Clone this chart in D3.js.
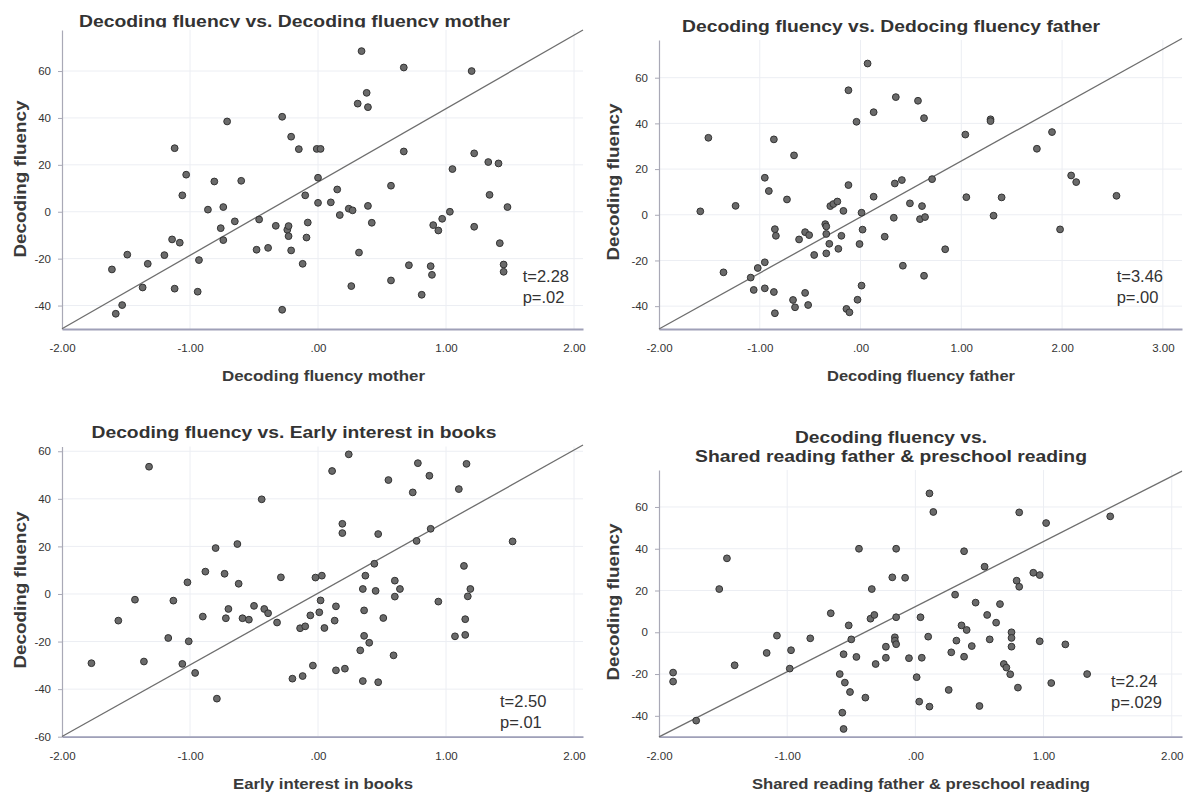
<!DOCTYPE html>
<html><head><meta charset="utf-8">
<script src="https://cdn.jsdelivr.net/npm/d3@7"></script>
<style>body{margin:0;background:#fff}svg{display:block}</style>
</head><body>
<svg id="c" width="1184" height="796"></svg>
<script>
// ---------- data ----------
const motherPts = [[-1.61,-24.6],[-1.58,-43.5],[-1.53,-39.8],[-1.49,-18.3],[-1.33,-22.2],[-1.37,-32.3],[-1.20,-18.5],[-1.12,27.1],[-1.14,-11.8],[-1.12,-32.8],[-1.08,-13.2],[-1.06,7.0],[-1.03,15.8],[-0.93,-20.6],[-0.94,-34.1],[-0.86,0.9],[-0.81,12.9],[-0.74,2.0],[-0.76,-7.0],[-0.74,-12.1],[-0.71,38.5],[-0.65,-4.1],[-0.60,13.2],[-0.48,-16.2],[-0.46,-3.3],[-0.39,-15.4],[-0.33,-6.0],[-0.28,40.5],[-0.28,-41.8],[-0.21,32.0],[-0.24,-7.7],[-0.23,-6.1],[-0.23,-10.4],[-0.21,-16.5],[-0.15,26.7],[-0.12,-22.2],[-0.10,7.0],[-0.08,-4.6],[-0.09,-11.0],[-0.01,26.8],[0.02,26.8],[0.00,14.5],[0.00,3.8],[0.10,4.0],[0.15,9.5],[0.17,-1.4],[0.24,1.3],[0.27,0.6],[0.34,68.5],[0.31,46.1],[0.38,50.7],[0.39,44.6],[0.39,2.5],[0.42,-4.7],[0.32,-17.4],[0.26,-31.7],[0.57,11.1],[0.57,-29.3],[0.67,61.5],[0.67,25.7],[0.71,-22.8],[0.81,-35.4],[0.88,-23.2],[0.89,-26.9],[0.90,-5.7],[0.94,-8.0],[0.97,-3.0],[1.03,0.0],[1.05,18.2],[1.20,60.0],[1.22,24.9],[1.22,-6.4],[1.33,21.2],[1.34,7.2],[1.41,20.6],[1.42,-13.4],[1.45,-22.5],[1.45,-25.6],[1.48,2.0]];
const fatherPts = [[-1.59,1.5],[-1.51,33.7],[-1.36,-25.2],[-1.24,3.9],[-1.09,-27.5],[-1.06,-32.9],[-1.02,-23.3],[-0.95,16.2],[-0.95,-20.8],[-0.95,-32.2],[-0.91,10.4],[-0.86,33.0],[-0.86,-33.8],[-0.85,-6.3],[-0.84,-9.2],[-0.85,-43.1],[-0.73,6.7],[-0.66,26.0],[-0.67,-37.3],[-0.65,-40.5],[-0.61,-10.8],[-0.55,-7.6],[-0.55,-34.2],[-0.51,-8.9],[-0.52,-39.5],[-0.46,-17.6],[-0.35,-4.1],[-0.34,-5.1],[-0.34,-8.4],[-0.34,-16.9],[-0.31,-12.7],[-0.30,3.8],[-0.27,4.7],[-0.23,5.8],[-0.22,-14.9],[-0.19,-9.2],[-0.17,1.7],[-0.14,-41.2],[-0.11,-42.7],[-0.12,54.5],[-0.12,13.0],[-0.04,40.7],[-0.03,-37.2],[-0.01,-12.8],[0.01,0.9],[0.02,-6.5],[0.01,-31.0],[0.07,66.2],[0.13,44.9],[0.13,7.9],[0.24,-9.6],[0.35,51.5],[0.34,13.7],[0.33,-1.3],[0.57,49.9],[0.63,42.3],[0.41,15.2],[0.49,5.0],[0.61,3.8],[0.59,-1.9],[0.64,-1.0],[0.71,15.6],[0.42,-22.3],[0.63,-26.7],[0.84,-15.1],[1.04,35.1],[1.05,7.7],[1.29,41.8],[1.29,41.0],[1.32,-0.4],[1.40,7.6],[1.75,28.9],[1.90,36.2],[1.98,-6.4],[2.09,17.2],[2.14,14.3],[2.54,8.3]];
const booksPts = [[-1.77,-29.1],[-1.56,-11.2],[-1.43,-2.4],[-1.32,53.5],[-1.36,-28.4],[-1.17,-18.5],[-1.13,-2.8],[-1.06,-29.4],[-1.02,4.9],[-1.01,-19.9],[-0.96,-33.2],[-0.90,-9.5],[-0.88,9.4],[-0.80,19.3],[-0.79,-44.0],[-0.73,8.5],[-0.72,-10.2],[-0.70,-6.3],[-0.63,21.0],[-0.62,4.3],[-0.59,-10.2],[-0.54,-10.8],[-0.50,-5.0],[-0.44,39.8],[-0.42,-6.3],[-0.39,-8.1],[-0.32,-12.0],[-0.29,7.0],[-0.20,-35.6],[-0.14,-14.4],[-0.10,-13.6],[-0.12,-34.5],[-0.06,-9.0],[-0.04,-30.1],[-0.02,6.9],[0.03,7.7],[0.02,-2.7],[0.01,-7.7],[0.05,-14.3],[0.13,-11.2],[0.14,-5.2],[0.14,-32.1],[0.21,-31.4],[0.11,51.7],[0.24,58.7],[0.19,29.5],[0.19,25.6],[0.33,-23.7],[0.35,-36.6],[0.36,-6.9],[0.35,2.1],[0.37,7.7],[0.36,-17.6],[0.40,-20.5],[0.44,12.7],[0.45,1.3],[0.47,25.2],[0.47,-37.1],[0.51,-10.1],[0.55,47.9],[0.59,-25.8],[0.60,5.6],[0.60,-1.1],[0.64,2.1],[0.74,42.7],[0.78,55.0],[0.77,22.3],[0.87,49.7],[0.88,27.4],[0.94,-3.2],[1.07,-17.8],[1.10,44.1],[1.14,11.8],[1.16,54.7],[1.15,-10.6],[1.15,-17.2],[1.17,-1.0],[1.19,2.1],[1.52,22.1]];
const sharedPts = [[-1.89,-19.3],[-1.89,-23.6],[-1.71,-42.3],[-1.53,20.7],[-1.47,35.4],[-1.41,-15.8],[-1.16,-9.9],[-1.08,-1.6],[-0.98,-17.4],[-0.97,-8.6],[-0.82,-2.9],[-0.66,9.1],[-0.59,-20.0],[-0.57,-38.5],[-0.56,-46.3],[-0.56,-10.5],[-0.55,-24.1],[-0.52,3.3],[-0.51,-28.6],[-0.50,-3.4],[-0.46,-11.8],[-0.44,40.0],[-0.39,-31.3],[-0.35,6.5],[-0.34,20.7],[-0.32,8.3],[-0.31,-15.2],[-0.23,-6.9],[-0.23,-12.2],[-0.18,26.3],[-0.15,40.0],[-0.15,7.2],[-0.16,-2.4],[-0.16,-4.0],[-0.15,-5.7],[-0.08,26.1],[-0.05,-12.4],[0.01,-21.5],[0.03,-33.2],[0.04,7.2],[0.05,-12.2],[0.10,-2.1],[0.11,66.5],[0.14,57.6],[0.11,-35.6],[0.26,-27.6],[0.28,-9.6],[0.31,18.0],[0.32,-4.0],[0.36,3.3],[0.40,1.1],[0.38,38.8],[0.38,-11.7],[0.44,-6.6],[0.47,14.2],[0.50,-35.3],[0.54,31.4],[0.56,8.3],[0.58,-3.4],[0.63,4.6],[0.66,13.5],[0.69,-15.2],[0.71,-16.9],[0.74,-20.1],[0.75,0.0],[0.75,-2.7],[0.75,-6.9],[0.79,24.7],[0.81,21.8],[0.80,-26.5],[0.81,57.4],[0.92,28.5],[0.97,27.4],[0.97,-4.3],[1.02,52.3],[1.06,-24.3],[1.17,-5.8],[1.34,-20.0],[1.52,55.5]];

// regression lines: [intercept, slope]
const fitMother = [12.7, 31.3];
const fitFather = [-1.0, 24.5];
const fitBooks  = [0.3, 30.1];
const fitShared = [12.3, 31.2];

const statMother = ["t=2.28", "p=.02"];
const statFather = ["t=3.46", "p=.00"];
const statBooks  = ["t=2.50", "p=.01"];
const statShared = ["t=2.24", "p=.029"];

const titleMother = ["Decoding fluency vs. Decoding fluency mother"];
const titleFather = ["Decoding fluency vs. Dedocing fluency father"];
const titleBooks  = ["Decoding fluency vs. Early interest in books"];
const titleShared = ["Decoding fluency vs.", "Shared reading father & preschool reading"];

const xLabels = ["Decoding fluency mother", "Decoding fluency father", "Early interest in books", "Shared reading father & preschool reading"];
const yLabel = "Decoding fluency";

const xTicks4 = [-2, -1, 0, 1, 2];
const xTicks5 = [-2, -1, 0, 1, 2, 3];
const yTicks6 = [-40, -20, 0, 20, 40, 60];
const yTicks7 = [-60, -40, -20, 0, 20, 40, 60];

// ---------- layout ----------
const panels = [
  {pts: motherPts, fit: fitMother, stat: statMother, title: titleMother, xlab: xLabels[0],
   xDom: [-2, 2.07], yDom: [-50, 77.5], L: 62, R: 583, T: 30, B: 329, xt: xTicks4, yt: yTicks6,
   titleX: 294.5, titleY: [27], titleW: [431], clip: true, xlabX: 323.5, xlabY: 381, xlabW: 203,
   ylabX: 26, ylabY: 179, statX: 522.7, statY: [281.7, 303]},
  {pts: fatherPts, fit: fitFather, stat: statFather, title: titleFather, xlab: xLabels[1],
   xDom: [-2, 3.19], yDom: [-50, 76.5], L: 659, R: 1182, T: 40, B: 329, xt: xTicks5, yt: yTicks6,
   titleX: 891, titleY: [31.5], titleW: [418], clip: false, xlabX: 921, xlabY: 381, xlabW: 188,
   ylabX: 619, ylabY: 182, statX: 1116.7, statY: [281.7, 303]},
  {pts: booksPts, fit: fitBooks, stat: statBooks, title: titleBooks, xlab: xLabels[2],
   xDom: [-2, 2.07], yDom: [-60, 62], L: 62, R: 583, T: 446.5, B: 736.7, xt: xTicks4, yt: yTicks7,
   titleX: 294, titleY: [438], titleW: [405], clip: false, xlabX: 323, xlabY: 789, xlabW: 180,
   ylabX: 26, ylabY: 590, statX: 500, statY: [706.7, 728.3]},
  {pts: sharedPts, fit: fitShared, stat: statShared, title: titleShared, xlab: xLabels[3],
   xDom: [-2, 2.08], yDom: [-50, 77.7], L: 659, R: 1182, T: 470, B: 736.7, xt: xTicks4, yt: yTicks6,
   titleX: 891, titleY: [443, 461.7], titleW: [192, 392], clip: false, xlabX: 921, xlabY: 789, xlabW: 338,
   ylabX: 619, ylabY: 602, statX: 1111, statY: [686.7, 708.3]}
];

const svg = d3.select("#c");
const FONT = "'Liberation Sans', Arial, Helvetica, sans-serif";
const fmtX = d => d === 0 ? ".00" : d.toFixed(2);

svg.append("defs").append("clipPath").attr("id", "titleClip")
  .append("rect").attr("x", 0).attr("y", 0).attr("width", 600).attr("height", 27.6);

panels.forEach((p, i) => {
  const x = d3.scaleLinear().domain(p.xDom).range([p.L, p.R]);
  const y = d3.scaleLinear().domain(p.yDom).range([p.B, p.T]);
  const g = svg.append("g");

  // gridlines
  g.append("g").selectAll("line").data(p.yt).join("line")
    .attr("x1", p.L).attr("x2", p.R).attr("y1", d => y(d)).attr("y2", d => y(d))
    .attr("stroke", "#eceef3").attr("stroke-width", 1);
  g.append("g").selectAll("line").data(p.xt.filter(d => d !== p.xDom[0])).join("line")
    .attr("x1", d => x(d)).attr("x2", d => x(d)).attr("y1", p.T).attr("y2", p.B)
    .attr("stroke", "#eceef3").attr("stroke-width", 1);

  // y axis
  const ya = g.append("g").attr("transform", `translate(${p.L},0)`)
    .call(d3.axisLeft(y).tickValues(p.yt).tickSize(4).tickSizeOuter(0).tickPadding(7).tickFormat(d => String(d)));
  ya.select(".domain").attr("stroke", "#a9a9b6").attr("stroke-width", 1.2);
  ya.selectAll(".tick line").attr("stroke", "#a9a9b6");
  ya.selectAll(".tick text").attr("font-family", FONT).attr("font-size", 11.5).attr("fill", "#333");

  // x axis
  const xa = g.append("g").attr("transform", `translate(0,${p.B})`)
    .call(d3.axisBottom(x).tickValues(p.xt).tickSize(0).tickSizeOuter(0).tickPadding(15).tickFormat(fmtX));
  xa.select(".domain").attr("stroke", "#9fa0b8").attr("stroke-width", 1.8);
  xa.selectAll(".tick text").attr("font-family", FONT).attr("font-size", 11.5).attr("fill", "#333");

  // regression line
  const [b0, b1] = p.fit;
  const lx = [p.xDom[0], p.xDom[1]];
  g.append("line")
    .attr("x1", x(lx[0])).attr("y1", y(b0 + b1 * lx[0]))
    .attr("x2", x(lx[1])).attr("y2", y(b0 + b1 * lx[1]))
    .attr("stroke", "#6e6e6e").attr("stroke-width", 1.3);

  // points
  g.append("g").selectAll("circle").data(p.pts).join("circle")
    .attr("cx", d => x(d[0])).attr("cy", d => y(d[1])).attr("r", 3.4)
    .attr("fill", "#6a6a6a").attr("stroke", "#333").attr("stroke-width", 1);

  // title
  const tg = g.append("g");
  if (p.clip) tg.attr("clip-path", "url(#titleClip)");
  p.title.forEach((t, k) => {
    tg.append("text").attr("x", p.titleX).attr("y", p.titleY[k])
      .attr("text-anchor", "middle").attr("font-family", FONT).attr("font-weight", "bold")
      .attr("font-size", 17).attr("fill", "#333")
      .attr("textLength", p.titleW[k]).attr("lengthAdjust", "spacingAndGlyphs").text(t);
  });

  // x label
  g.append("text").attr("x", p.xlabX).attr("y", p.xlabY).attr("text-anchor", "middle")
    .attr("font-family", FONT).attr("font-weight", "bold").attr("font-size", 15.5).attr("fill", "#3a3a3a")
    .attr("textLength", p.xlabW).attr("lengthAdjust", "spacingAndGlyphs").text(p.xlab);

  // y label
  g.append("text").attr("transform", `translate(${p.ylabX},${p.ylabY}) rotate(-90)`)
    .attr("text-anchor", "middle").attr("font-family", FONT).attr("font-weight", "bold")
    .attr("font-size", 16.5).attr("fill", "#3a3a3a")
    .attr("textLength", 157).attr("lengthAdjust", "spacingAndGlyphs").text(yLabel);

  // stats
  p.stat.forEach((s, k) => {
    g.append("text").attr("x", p.statX).attr("y", p.statY[k])
      .attr("font-family", FONT).attr("font-size", 16.5).attr("fill", "#333").text(s);
  });
});
</script>
</body></html>
